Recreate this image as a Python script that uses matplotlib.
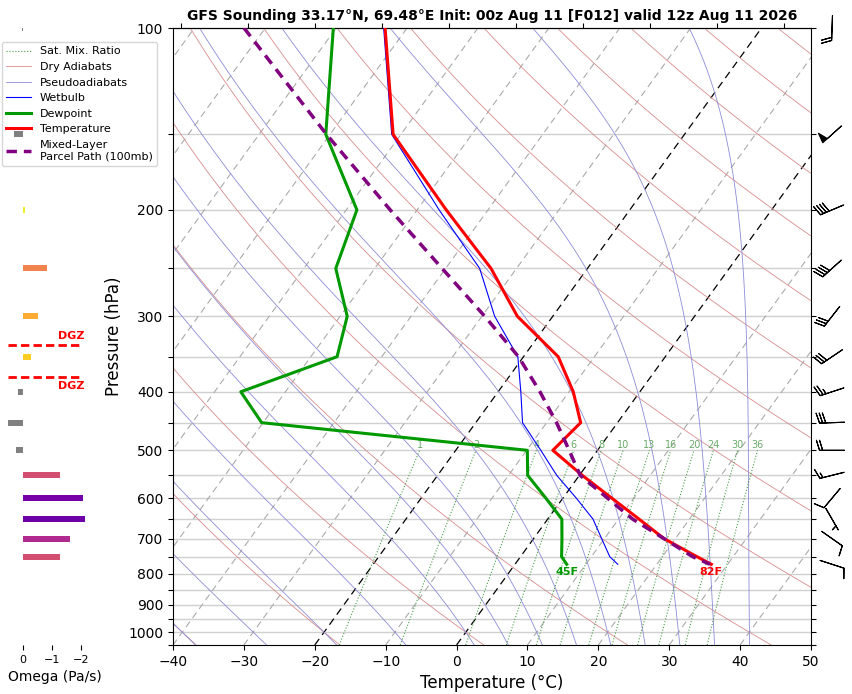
import numpy as np
import matplotlib
matplotlib.use("Agg")
import matplotlib.pyplot as plt
import matplotlib.transforms as mtransforms
from matplotlib.lines import Line2D

# ---- sounding data ----
pres = np.array([100, 150, 200, 250, 300, 350, 400, 450, 500, 550, 600, 650, 700, 750, 772])
temp = np.array([-73.1, -61.1, -45.9, -33.6, -25.0, -15.1, -9.4, -5.2, -6.3, 0.4, 6.9, 12.9, 18.4, 24.9, 27.7])
dewp = np.array([-80.4, -70.6, -58.5, -55.5, -49.0, -46.3, -56.3, -50.2, -9.9, -7.3, -2.4, 2.0, 4.0, 5.8, 7.3])
wetb = np.array([-73.3, -61.3, -46.9, -35.2, -28.2, -20.8, -16.8, -13.4, -8.0, -3.2, 1.9, 6.4, 9.6, 12.6, 14.5])
parcel = np.array([-93.0, -70.5, -53.8, -40.5, -29.6, -20.7, -14.1, -8.6, -4.0, 0.1, 6.3, 12.0, 18.4, 24.3, 27.5])

wind_p = np.array([100, 150, 200, 250, 300, 350, 400, 450, 500, 550, 600, 650, 700, 772])
wind_dir = np.array([182, 228, 247, 228, 218, 236, 252, 268, 270, 256, 220, 150, 125, 108])
wind_spd = np.array([20, 50, 40, 40, 30, 30, 25, 30, 20, 15, 10, 5, 10, 10])

omega_p = np.array([100, 150, 200, 250, 300, 350, 400, 450, 500, 550, 600, 650, 700, 750])
omega = np.array([0.03, 0.3, -0.08, -0.82, -0.5, -0.27, 0.17, 0.52, 0.24, -1.27, -2.07, -2.14, -1.62, -1.27])

dgz_top, dgz_bot = 335, 378
mix_ratios = [1, 2, 4, 6, 8, 10, 13, 16, 20, 24, 30, 36]
top_ticks = [-38.9, -29.45, -20.0, -10.55, -1.1, 8.35, 17.8, 27.25, 36.7, 46.15]

title = "GFS Sounding 33.17°N, 69.48°E Init: 00z Aug 11 [F012] valid 12z Aug 11 2026"

# ---- figure ----
fig = plt.figure(figsize=(8.53, 6.94), dpi=100)
ax = fig.add_axes([173/853, 49/694, 638/853, 617/694])
ax.set_yscale('log')
ax.set_ylim(1050, 100)
ax.set_xlim(-40, 50)

skew = ax.transScale + ax.transLimits + mtransforms.Affine2D().skew_deg(35, 0) + ax.transAxes

# pressure grid
for p in np.arange(100, 1001, 50):
    ax.axhline(p, color='#d0d0d0', lw=1, zorder=1)

pp = np.geomspace(1050, 100, 120)

# isotherms
for t in np.arange(-110, 51, 10):
    if t in (0, -20):
        ax.plot([t, t], [1050, 100], color='black', ls=(0, (6, 4)), lw=0.9, transform=skew, zorder=2)
    else:
        ax.plot([t, t], [1050, 100], color='#aaaaaa', ls=(0, (6, 4)), lw=0.8, transform=skew, zorder=2)

# dry adiabats
for th in np.arange(-60, 261, 20):
    tt = (th + 273.15) * (pp / 1000.0) ** 0.2857 - 273.15
    ax.plot(tt, pp, color='#d88c8c', lw=0.6, transform=skew, zorder=2)

# pseudoadiabats
Rd, cp, Lv, eps = 287.04, 1005.7, 2.501e6, 0.622


def dtdp(p, t):
    es = 6.112 * np.exp(17.67 * (t - 273.15) / (t - 29.65))
    rs = eps * es / (p - es)
    return (Rd * t + Lv * rs) / (cp + Lv ** 2 * rs * eps / (Rd * t ** 2)) / p


def integrate(t0, plevs):
    out = [t0]
    t = t0
    for p1, p2 in zip(plevs[:-1], plevs[1:]):
        h = p2 - p1
        k1 = dtdp(p1, t)
        k2 = dtdp(p1 + h / 2, t + h / 2 * k1)
        k3 = dtdp(p1 + h / 2, t + h / 2 * k2)
        k4 = dtdp(p2, t + h * k3)
        t = t + h / 6 * (k1 + 2 * k2 + 2 * k3 + k4)
        out.append(t)
    return np.array(out)


t0s = np.concatenate((np.arange(-40, 0, 10), np.arange(0, 41, 5))) + 273.15
p_up = np.linspace(1000, 100, 200)
p_dn = np.linspace(1000, 1050, 10)
m_up = integrate(t0s, p_up)
m_dn = integrate(t0s, p_dn)
p_moist = np.concatenate((p_dn[::-1], p_up[1:]))
m_all = np.concatenate((m_dn[::-1], m_up[1:])) - 273.15
for i in range(len(t0s)):
    ax.plot(m_all[:, i], p_moist, color='#8c8cd8', lw=0.6, transform=skew, zorder=2)

# mixing ratio lines
pm = np.linspace(1050, 500, 40)
for w in mix_ratios:
    e = w / 1000.0 * pm / (0.622 + w / 1000.0)
    lg = np.log(e / 6.112)
    td = 243.5 * lg / (17.67 - lg)
    ax.plot(td, pm, color='#4a9e4a', ls=':', lw=0.8, transform=skew, zorder=2)
    ax.text(td[-1], 500, str(w), color='#6aaa6a', fontsize=7, ha='center', va='bottom', transform=skew, zorder=3)

# profiles
ax.plot(wetb, pres, color='blue', lw=0.8, transform=skew, zorder=5)
ax.plot(dewp, pres, color='#009900', lw=2.2, transform=skew, zorder=6)
ax.plot(temp, pres, color='red', lw=2.2, transform=skew, zorder=6)
ax.plot(parcel, pres, color='purple', lw=2.5, ls=(0, (3, 2)), transform=skew, zorder=7)

ax.annotate(f"{temp[-1] * 9 / 5 + 32:.0f}F", xy=(temp[-1], pres[-1]), xycoords=skew,
            xytext=(0, -2), textcoords='offset points', ha='center', va='top',
            color='red', fontsize=8, fontweight='bold', zorder=8)
ax.annotate(f"{dewp[-1] * 9 / 5 + 32:.0f}F", xy=(dewp[-1], pres[-1]), xycoords=skew,
            xytext=(0, -2), textcoords='offset points', ha='center', va='top',
            color='#009900', fontsize=8, fontweight='bold', zorder=8)

# wind barbs
rad = np.deg2rad(wind_dir)
u = -wind_spd * np.sin(rad)
v = -wind_spd * np.cos(rad)
bt = mtransforms.blended_transform_factory(ax.transAxes, ax.transData)
ax.barbs(np.full(len(wind_p), 1.033), wind_p, u, v, transform=bt, clip_on=False,
         length=6, pivot='middle', lw=0.8, color='black')

# axes formatting
ax.set_yticks(np.arange(100, 1051, 50))
ax.set_yticklabels([str(p) if p % 100 == 0 and p <= 1000 else '' for p in np.arange(100, 1051, 50)])
ax.yaxis.set_minor_locator(matplotlib.ticker.NullLocator())
ax.set_xticks(np.arange(-40, 51, 10))
ax.tick_params(axis='y', which='both', right=True)
ax.set_xlabel('Temperature (°C)', fontsize=12)
ax.set_ylabel('Pressure (hPa)', fontsize=12)
ax.set_title(title, fontsize=10, fontweight='bold', pad=6)

top = ax.secondary_xaxis('top')
top.set_xticks(top_ticks)
top.set_xticklabels([])

handles = [
    Line2D([], [], color='#4a9e4a', ls=':', lw=0.8, label='Sat. Mix. Ratio'),
    Line2D([], [], color='#d88c8c', lw=0.6, label='Dry Adiabats'),
    Line2D([], [], color='#8c8cd8', lw=0.6, label='Pseudoadiabats'),
    Line2D([], [], color='blue', lw=0.8, label='Wetbulb'),
    Line2D([], [], color='#009900', lw=2.2, label='Dewpoint'),
    Line2D([], [], color='red', lw=2.2, label='Temperature'),
    Line2D([], [], color='purple', lw=2.5, ls=(0, (3, 2)), label='Mixed-Layer\nParcel Path (100mb)'),
]
ax.legend(handles=handles, loc='upper left', bbox_to_anchor=(2 / 853, 1 - 42 / 694),
          bbox_transform=fig.transFigure, fontsize=8, handlelength=2.2, borderaxespad=0)

# omega panel
ax2 = fig.add_axes([8/853, 49/694, 94/853, 617/694])
ax2.set_yscale('log')
ax2.set_ylim(1050, 100)
ax2.set_xlim(0.52, -2.72)
cmap = plt.cm.plasma_r
cols = [cmap(min(-w / 2.7, 1.0)) if w < 0 else '#808080' for w in omega]
ax2.barh(omega_p, omega, height=omega_p * 0.023, color=cols, zorder=3)
ax2.hlines([dgz_top, dgz_bot], 0.52, -2.07, colors='red', linestyles=(0, (3, 1.5)), lw=2)
ax2.text(-2.1, dgz_top * 0.985, 'DGZ', color='red', fontsize=8, fontweight='bold', ha='right', va='bottom')
ax2.text(-2.1, dgz_bot * 1.015, 'DGZ', color='red', fontsize=8, fontweight='bold', ha='right', va='top')
for s in ax2.spines.values():
    s.set_visible(False)
ax2.set_yticks([])
ax2.yaxis.set_minor_locator(matplotlib.ticker.NullLocator())
ax2.set_xticks([0, -1, -2])
ax2.tick_params(axis='x', labelsize=8)
ax2.set_xlabel('Omega (Pa/s)', fontsize=10)
ax2.patch.set_alpha(0)

fig.savefig('out.png', dpi=100)
